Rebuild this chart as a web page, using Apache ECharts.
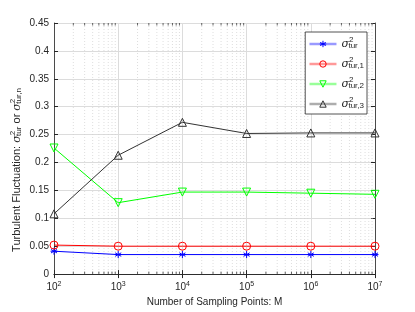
<!DOCTYPE html>
<html><head><meta charset="utf-8">
<script src="https://cdn.jsdelivr.net/npm/echarts@6/dist/echarts.min.js"></script>
<style>html,body{margin:0;padding:0;background:#fff}#c{width:415px;height:312px}</style>
</head><body><div id="c"></div>
<script>
var xVals = [1e2, 1e3, 1e4, 1e5, 1e6, 1e7];
var sTur  = [0.041, 0.035, 0.035, 0.035, 0.035, 0.035];
var sTur1 = [0.052, 0.050, 0.050, 0.050, 0.050, 0.050];
var sTur2 = [0.226, 0.128, 0.147, 0.147, 0.145, 0.143];
var sTur3 = [0.108, 0.213, 0.272, 0.252, 0.253, 0.253];
var yTicks = [0, 0.05, 0.1, 0.15, 0.2, 0.25, 0.3, 0.35, 0.4, 0.45];

var minorVals = [];
for (var e = 2; e < 7; e++) for (var k = 2; k <= 9; k++) minorVals.push(k * Math.pow(10, e));

var FONT = 'Liberation Sans, Arial, sans-serif';
var TXT = '#262626';
function pairs(ys){ return xVals.map(function(x,i){ return [x, ys[i]]; }); }
var asterisk = 'path://M0,-10L0,10M-8.66,-5L8.66,5M-8.66,5L8.66,-5M-10,0L10,0';

var chart = echarts.init(document.getElementById('c'), null, {renderer:'canvas'});
var supRich = { sup:{fontSize:7, verticalAlign:'bottom', padding:[0,0,7,0], color:TXT, fontFamily:FONT}, base:{fontSize:10, color:TXT, fontFamily:FONT} };
function mkSeries(name, data, color, symbol, rot, size){
  return { name:name, type:'line', data:pairs(data), symbol:symbol, symbolSize:size, symbolRotate:rot||0,
    lineStyle:{color:color, width:1}, itemStyle:{color: symbol===asterisk ? color : 'rgba(0,0,0,0)', borderColor:color, borderWidth:1},
    color:color, z:5, animation:false };
}
var legRich = {
  s:{fontSize:11, fontStyle:'italic', color:TXT, fontFamily:'DejaVu Serif, serif'},
  p:{fontSize:8, color:TXT, fontFamily:FONT, verticalAlign:'bottom', padding:[0,0,8,0]},
  b:{fontSize:8, color:TXT, fontFamily:FONT, verticalAlign:'top', padding:[6,0,0,-5]}
};
var legendNames = {'s0':'{s|σ}{p|2}{b|tur}', 's1':'{s|σ}{p|2}{b|tur,1}', 's2':'{s|σ}{p|2}{b|tur,2}', 's3':'{s|σ}{p|2}{b|tur,3}'};
var yName = 'Turbulent Fluctuation: {s|σ}{p|2}{b|tur} or {s|σ}{p|2}{b|tur,n}';

var option = {
  animation:false,
  backgroundColor:'#fff',
  grid:{left:54, right:40, top:23, bottom:35, show:false},
  graphic:[{
    type:'text', x:17, y:170, rotation:Math.PI/2, z:10,
    style:{ text:yName, align:'center', verticalAlign:'middle', fontSize:11, fill:TXT, fontFamily:FONT,
      rich:{
        s:{fontSize:11, fontStyle:'italic', fill:TXT, fontFamily:'DejaVu Serif, serif'},
        p:{fontSize:8, fill:TXT, fontFamily:FONT, verticalAlign:'bottom', padding:[0,0,8,0]},
        b:{fontSize:8, fill:TXT, fontFamily:FONT, verticalAlign:'top', padding:[6,0,0,-5]}
      }}
  }],
  legend:{
    right:48, top:32, orient:'vertical', itemWidth:27, itemHeight:8, itemGap:6,
    backgroundColor:'#fff', borderColor:'#262626', borderWidth:0.8, padding:[4,3,4,3],
    formatter:function(n){ return legendNames[n]; },
    textStyle:{rich:legRich},
    lineStyle:{width:2.5, opacity:0.4},
    itemStyle:{borderWidth:1},
    data:['s0','s1','s2','s3']
  },
  xAxis:[{
    type:'log', logBase:10, min:1e2, max:1e7,
    name:'Number of Sampling Points: M', nameLocation:'middle', nameGap:20,
    nameTextStyle:{fontSize:10, color:TXT, fontFamily:FONT},
    axisLine:{show:true, lineStyle:{color:TXT, width:0.8}},
    axisTick:{show:true, inside:true, length:4, lineStyle:{color:TXT}},
    axisLabel:{margin:6, formatter:function(v){ return '{base|10}{sup|' + Math.round(Math.log10(v)) + '}'; }, rich:supRich},
    splitLine:{show:true, lineStyle:{color:'#dcdcdc', width:1}}
  },{
    type:'log', logBase:10, min:1e2, max:1e7, position:'top',
    axisLine:{show:true, lineStyle:{color:TXT, width:0.8}},
    axisTick:{show:true, inside:true, length:4, lineStyle:{color:TXT}},
    axisLabel:{show:false}, splitLine:{show:false}
  }],
  yAxis:[{
    type:'value', min:0, max:0.45, interval:0.05,
    axisLine:{show:true, lineStyle:{color:TXT, width:0.8}},
    axisTick:{show:true, inside:true, length:4, lineStyle:{color:TXT}},
    axisLabel:{fontSize:10, color:TXT, fontFamily:FONT, margin:5, formatter:function(v){ return String(+v.toFixed(2)); }},
    splitLine:{show:true, lineStyle:{color:'#dcdcdc', width:1}}
  },{
    type:'value', min:0, max:0.45, interval:0.05, position:'right',
    axisLine:{show:true, lineStyle:{color:TXT, width:0.8}},
    axisTick:{show:true, inside:true, length:4, lineStyle:{color:TXT}},
    axisLabel:{show:false}, splitLine:{show:false}
  }],
  series:[
    { type:'custom', silent:true, z:1, data:minorVals.map(function(v){return [v];}),
      renderItem:function(params, api){
        var x = api.coord([api.value(0), 0])[0];
        var cs = params.coordSys;
        return { type:'group', children:[
          { type:'line', shape:{x1:x, y1:cs.y, x2:x, y2:cs.y+cs.height}, style:{stroke:'#d0d0d0', lineWidth:0.7, lineDash:[1,2]} },
          { type:'line', shape:{x1:x, y1:cs.y+cs.height, x2:x, y2:cs.y+cs.height-2.5}, style:{stroke:TXT, lineWidth:0.7} },
          { type:'line', shape:{x1:x, y1:cs.y, x2:x, y2:cs.y+2.5}, style:{stroke:TXT, lineWidth:0.7} }
        ]};
      }
    },
    mkSeries('s0', sTur,  '#0000ff', asterisk, 0, 7),
    mkSeries('s1', sTur1, '#ff0000', 'circle', 0, 8),
    mkSeries('s2', sTur2, '#00ff00', 'triangle', 180, 8),
    mkSeries('s3', sTur3, '#333333', 'triangle', 0, 8)
  ]
};
chart.setOption(option);
</script></body></html>
